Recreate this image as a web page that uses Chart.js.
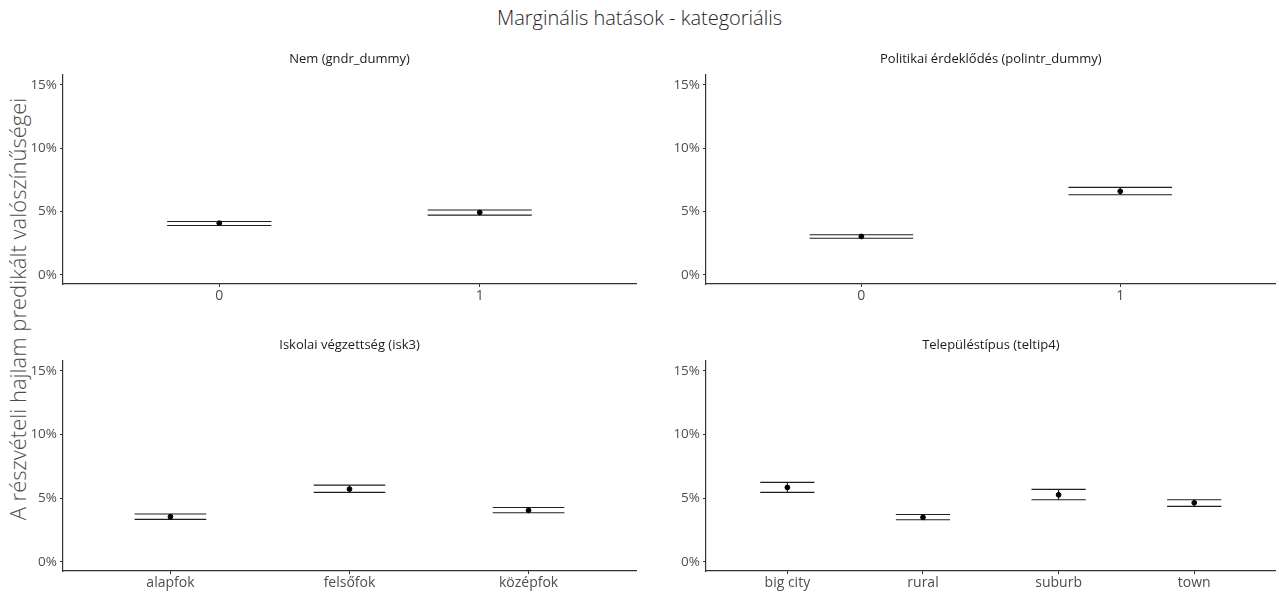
<!DOCTYPE html>
<html>
<head>
<meta charset="utf-8">
<script src="https://cdn.jsdelivr.net/npm/chart.js@4.4.1/dist/chart.umd.min.js"></script>
<style>
  html, body { margin: 0; padding: 0; background: #fff; }
  body { width: 1279px; height: 594px; position: relative; overflow: hidden; font-family: "Open Sans", sans-serif; }
  .cw { position: absolute; }
  #mainTitle { position: absolute; left: 0; top: 4px; width: 1279px; text-align: center; font-size: 20px; font-weight: 300; color: #262626; }
  #yTitle { position: absolute; left: 17px; top: 309px; transform: translate(-50%, -50%) rotate(-90deg); white-space: nowrap; font-size: 22px; font-weight: 300; color: #4d4d4d; }
</style>
</head>
<body>
<div id="mainTitle">Marginális hatások - kategoriális</div>
<div id="yTitle">A részvételi hajlam predikált valószínűségei</div>
<div class="cw" style="left:20px;top:45px;width:620px;height:265px"><canvas id="c1"></canvas></div>
<div class="cw" style="left:640px;top:45px;width:639px;height:265px"><canvas id="c2"></canvas></div>
<div class="cw" style="left:20px;top:331px;width:620px;height:263px"><canvas id="c3"></canvas></div>
<div class="cw" style="left:640px;top:331px;width:639px;height:263px"><canvas id="c4"></canvas></div>
<script>
// ---- data (percent) ----
const yTicks = [0, 5, 10, 15];

const titleGender = 'Nem (gndr_dummy)';
const catsGender = ['0', '1'];
const estGender  = [4.08, 4.92];
const lowGender  = [3.90, 4.71];
const highGender = [4.21, 5.12];

const titlePolint = 'Politikai érdeklődés (polintr_dummy)';
const catsPolint = ['0', '1'];
const estPolint  = [3.03, 6.59];
const lowPolint  = [2.89, 6.32];
const highPolint = [3.17, 6.90];

const titleEdu = 'Iskolai végzettség (isk3)';
const catsEdu = ['alapfok', 'felsőfok', 'középfok'];
const estEdu  = [3.54, 5.71, 4.04];
const lowEdu  = [3.33, 5.45, 3.85];
const highEdu = [3.75, 6.02, 4.27];

const titleSettle = 'Településtípus (teltip4)';
const catsSettle = ['big city', 'rural', 'suburb', 'town'];
const estSettle  = [5.84, 3.49, 5.26, 4.63];
const lowSettle  = [5.45, 3.30, 4.87, 4.35];
const highSettle = [6.24, 3.72, 5.69, 4.87];

// ---- drawing ----
const errBars = {
  id: 'errBars',
  beforeDatasetsDraw(chart, args, opts) {
    const { ctx, scales: { x, y } } = chart;
    ctx.save();
    ctx.strokeStyle = '#1f1f1f';
    ctx.lineWidth = 1.1;
    opts.low.forEach((lo, i) => {
      const hi = opts.high[i];
      const xl = x.getPixelForValue(i - 0.2), xr = x.getPixelForValue(i + 0.2), xc = x.getPixelForValue(i);
      [lo, hi].forEach(v => {
        const py = y.getPixelForValue(v);
        ctx.beginPath(); ctx.moveTo(xl, py); ctx.lineTo(xr, py); ctx.stroke();
      });
      ctx.beginPath();
      ctx.moveTo(xc, y.getPixelForValue(lo));
      ctx.lineTo(xc, y.getPixelForValue(hi));
      ctx.stroke();
    });
    ctx.restore();
  }
};

function makePanel(id, title, cats, est, low, high, yAxisW, xAxisH, padRight) {
  const n = cats.length;
  new Chart(document.getElementById(id), {
    type: 'scatter',
    data: {
      datasets: [{
        data: est.map((v, i) => ({ x: i, y: v })),
        backgroundColor: '#000',
        borderColor: '#000',
        pointRadius: 2.4,
        pointHoverRadius: 2.4
      }]
    },
    plugins: [errBars],
    options: {
      responsive: true,
      maintainAspectRatio: false,
      animation: false,
      events: [],
      layout: { padding: { left: 0, right: padRight, top: 0, bottom: 0 } },
      plugins: {
        legend: { display: false },
        tooltip: { enabled: false },
        title: {
          display: true, text: title, fullSize: false,
          color: '#1a1a1a',
          font: { family: 'Open Sans', size: 13, weight: 'normal', lineHeight: 1.1 },
          padding: { top: 7, bottom: 8 }
        },
        errBars: { low, high }
      },
      scales: {
        x: {
          type: 'linear',
          min: -0.6, max: n - 1 + 0.6,
          afterBuildTicks: s => { s.ticks = cats.map((c, i) => ({ value: i })); },
          afterFit: s => { s.height = xAxisH; },
          ticks: {
            callback: v => cats[v],
            color: '#4d4d4d',
            font: { family: 'Open Sans', size: 14 },
            padding: 1, maxRotation: 0, autoSkip: false
          },
          grid: { drawOnChartArea: false, drawTicks: true, tickLength: 3, color: '#333' },
          border: { display: true, color: '#333', width: 1.2 }
        },
        y: {
          type: 'linear',
          min: -0.72, max: 15.82,
          afterBuildTicks: s => { s.ticks = yTicks.map(v => ({ value: v })); },
          afterFit: s => { s.width = yAxisW; },
          ticks: {
            callback: v => v + '%',
            color: '#4d4d4d',
            font: { family: 'Open Sans', size: 13.5 },
            padding: 3
          },
          grid: { drawOnChartArea: false, drawTicks: true, tickLength: 3, color: '#333' },
          border: { display: true, color: '#333', width: 1.2 }
        }
      }
    }
  });
}

makePanel('c1', titleGender, catsGender, estGender, lowGender, highGender, 43, 26, 4);
makePanel('c2', titlePolint, catsPolint, estPolint, lowPolint, highPolint, 66, 26, 1);
makePanel('c3', titleEdu, catsEdu, estEdu, lowEdu, highEdu, 43, 23, 4);
makePanel('c4', titleSettle, catsSettle, estSettle, lowSettle, highSettle, 66, 23, 1);
</script>
</body>
</html>
